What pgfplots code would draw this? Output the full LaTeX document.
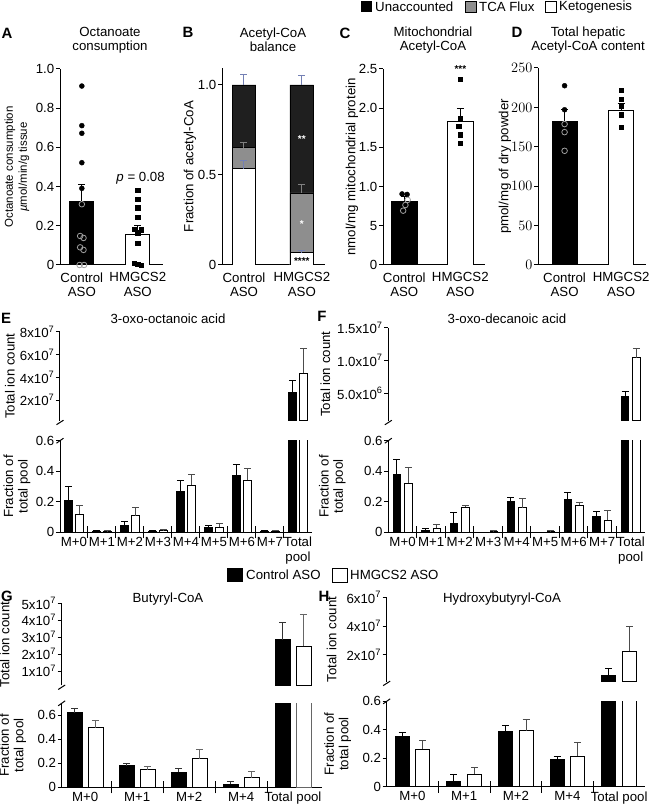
\documentclass[border=0pt]{standalone}
\usepackage{fontspec}
\setmainfont{Liberation Sans}
\usepackage{pgfplots}
\pgfplotsset{compat=1.18}

\definecolor{tca}{HTML}{8E8E8E}
\definecolor{ebblue}{HTML}{7480B4}
\newcommand\fs{\fontsize{13.3}{14.5}\selectfont}
\newcommand\ex[2]{#1x10\textsuperscript{#2}}

\pgfplotsset{
  base/.style={
    scale only axis, anchor=south west,
    axis x line=bottom, axis y line=left,
    axis line style={-, line width=1bp},
    tick style={black, line width=1bp},
    major tick length=4bp, minor tick length=12bp,
    tick align=outside,
    major x tick style={draw=none},
    minor x tick style={yshift=6bp},
    ticklabel style={font=\fs},
    yticklabel style={inner sep=1.5bp},
    xticklabel style={align=center},
    scaled y ticks=false,
    clip mode=individual,
  },
  ylab/.style={every axis y label/.style={at={(rel axis cs:0,0.5)}, xshift=-#1,
    rotate=90, anchor=center, align=center, font=\fs}},
  errb/.style={error bars/.cd, y dir=plus, y explicit,
    error bar style={#1, line width=1bp},
    error mark options={#1, rotate=90, line width=1bp, mark size=3.5bp}},
  cbar/.style={ybar, fill=black, draw=black, line width=0.8bp},
  hbar/.style={ybar, fill=white, draw=black, line width=0.8bp},
  dots/.style={only marks, mark=*, mark size=2.5bp, black},
  rings/.style={only marks, mark=o, mark size=2.8bp, mark options={draw=gray!75, line width=0.8bp}},
  sqs/.style={only marks, mark=square*, mark size=2.2bp, black},
  upper/.style={base, axis x line=none, xtick=\empty},
  lower/.style={base, xticklabel style={yshift=2.5bp}},
}

\begin{document}
\begin{tikzpicture}
\useasboundingbox (0,0) rectangle (650bp,806bp);

% ---- top legend
\fill[black] (361bp,794bp) rectangle (372bp,805bp);
\node[font=\fs, anchor=west, inner sep=0] at (375bp,799bp) {Unaccounted};
\filldraw[fill=tca, draw=black, line width=0.6bp] (465bp,794bp) rectangle (476bp,805bp);
\node[font=\fs, anchor=west, inner sep=0] at (479bp,799bp) {TCA Flux};
\draw[line width=0.6bp] (545bp,794bp) rectangle (556bp,805bp);
\node[font=\fs, anchor=west, inner sep=0] at (559bp,799bp) {Ketogenesis};

% ---- titles and letters
\begin{scope}[every node/.style={font=\fs, align=center}]
\node at (110bp,766bp) {Octanoate\\consumption};
\node at (273bp,766bp) {Acetyl-CoA\\balance};
\node at (433bp,766bp) {Mitochondrial\\Acetyl-CoA};
\node at (588bp,766bp) {Total hepatic\\Acetyl-CoA content};
\node at (168bp,487bp) {3-oxo-octanoic acid};
\node at (507bp,487bp) {3-oxo-decanoic acid};
\node at (168bp,207bp) {Butyryl-CoA};
\node at (502bp,207bp) {Hydroxybutyryl-CoA};
\end{scope}
\begin{scope}[every node/.style={font=\bfseries\fontsize{15}{15}\selectfont}]
\node at (7bp,773bp) {A};
\node at (188bp,774bp) {B};
\node at (345bp,773bp) {C};
\node at (517bp,774bp) {D};
\node at (6bp,488bp) {E};
\node at (322bp,490bp) {F};
\node at (7bp,210bp) {G};
\node at (324bp,210bp) {H};
\end{scope}

% ---- middle legend
\fill[black] (227bp,224bp) rectangle (243bp,238bp);
\node[font=\fs, anchor=west, inner sep=0] at (246bp,231bp) {Control ASO};
\draw[line width=0.6bp] (332bp,224bp) rectangle (347bp,238bp);
\node[font=\fs, anchor=west, inner sep=0] at (350bp,231bp) {HMGCS2 ASO};

% ================= A
\begin{axis}[base, at={(60bp,541bp)}, width=103bp, height=196bp,
  xmin=-0.39, xmax=1.45, ymin=0, ymax=1,
  ytick={0,0.2,0.4,0.6,0.8,1}, yticklabels={0,0.2,0.4,0.6,0.8,1.0},
  xtick={0,1}, xticklabels={Control\\ASO,HMGCS2\\ASO},
  ylab=43bp, ylabel style={font=\fontsize{11.5}{14}\selectfont},
  ylabel={Octanoate consumption\\\textit{µ}mol/min/g tissue}]
\addplot[cbar, bar width=0.43, errb=black] coordinates {(0,0.323) +- (0,0.087)};
\addplot[hbar, bar width=0.43, errb=black] coordinates {(1,0.156) +- (0,0.043)};
\addplot[dots] coordinates {(0,0.913) (0,0.711) (0,0.672) (0,0.522) (0,0.391)};
\addplot[rings] coordinates {(0,0.31) (-0.03,0.148) (0.03,0.138) (-0.03,0.09) (0.03,0.077) (-0.04,0) (0.04,0)};
\addplot[sqs] coordinates {(1,0.383) (1,0.337) (1,0.293) (1,0.245) (0.94,0.182) (1.06,0.18) (1,0.165) (1,0.11) (0.94,0.01) (1,0.005) (1.06,0)};
\node[font=\fs] at (axis cs:1.05,0.445) {\textit{p} = 0.08};
\end{axis}

% ================= B
\begin{axis}[base, at={(222bp,541bp)}, width=103bp, height=197bp,
  xmin=-0.38, xmax=1.40, ymin=0, ymax=1.094,
  ytick={0,0.5,1}, yticklabels={0,0.5,1.0},
  xtick={0,1}, xticklabels={Control\\ASO,HMGCS2\\ASO},
  ylab=32bp, ylabel={Fraction of acetyl-CoA}]
\addplot[cbar, bar width=0.41, fill=black!88, errb=ebblue] coordinates {(0,1) +- (0,0.06) (1,1) +- (0,0.05)};
\addplot[ybar, bar width=0.41, fill=tca, draw=black, line width=0.8bp, errb=gray] coordinates {(0,0.652) +- (0,0.028) (1,0.40) +- (0,0.047)};
\addplot[hbar, bar width=0.41, errb=ebblue] coordinates {(0,0.535) +- (0,0.045) (1,0.069) +- (0,0.009)};
\node[text=white, font=\fontsize{10}{10}\selectfont\bfseries] at (axis cs:1,0.70) {**};
\node[text=white, font=\fontsize{10}{10}\selectfont\bfseries] at (axis cs:1,0.23) {*};
\node[font=\fontsize{10}{10}\selectfont\bfseries] at (axis cs:1,0.022) {****};
\end{axis}

% ================= C
\begin{axis}[base, at={(383bp,541bp)}, width=102bp, height=196bp,
  xmin=-0.38, xmax=1.44, ymin=0, ymax=2.5,
  ytick={0,0.5,1,1.5,2,2.5}, yticklabels={0,5,1.0,1.5,2.0,2.5},
  xtick={0,1}, xticklabels={Control\\ASO,HMGCS2\\ASO},
  ylab=31bp, ylabel={nmol/mg mitochondrial protein}]
\addplot[cbar, bar width=0.45, errb=black] coordinates {(0,0.808) +- (0,0.064)};
\addplot[hbar, bar width=0.45, errb=black] coordinates {(1,1.83) +- (0,0.16)};
\addplot[dots] coordinates {(-0.04,0.906) (0.05,0.90)};
\addplot[rings] coordinates {(0.06,0.83) (0.02,0.765) (-0.02,0.693)};
\addplot[sqs] coordinates {(1,2.37) (1,1.87) (0.97,1.77) (1,1.66) (1,1.55)};
\node[font=\fontsize{10}{10}\selectfont\bfseries] at (axis cs:1,2.5) {***};
\end{axis}

% ================= D
\begin{axis}[base, at={(538bp,541bp)}, width=108bp, height=197bp,
  xmin=-0.47, xmax=1.44, ymin=0, ymax=250,
  ytick={0,50,100,150,200,250},
  xtick={0,1}, xticklabels={Control\\ASO,HMGCS2\\ASO},
  ylab=33bp, ylabel={pmol/mg of dry powder}]
\addplot[cbar, bar width=0.44, errb=black] coordinates {(0,182.2) +- (0,14.8)};
\addplot[hbar, bar width=0.44, errb=black] coordinates {(1,195.8) +- (0,9.7)};
\addplot[dots] coordinates {(0,227.5) (0,197)};
\addplot[rings] coordinates {(0,178.8) (0,168.6) (0,144.9)};
\addplot[sqs] coordinates {(1,221.6) (1,210.6) (1,201.3) (1,190.7) (1,174.6)};
\end{axis}

% ================= E upper
\begin{axis}[upper, at={(60bp,385.3bp)}, width=252bp, height=89bp,
  xmin=-0.5, xmax=8.5, ymin=0.2e7, ymax=8e7,
  ytick={2e7,4e7,6e7,8e7}, yticklabels={\ex{2}{7},\ex{4}{7},\ex{6}{7},\ex{8}{7}},
  ylab=50bp, ylabel={Total ion count}]
\addplot[cbar, bar width=0.3, errb=black] coordinates {(7.8,2.67e7) +- (0,1.07e7)};
\addplot[hbar, bar width=0.3, errb=black!70] coordinates {(8.2,4.37e7) +- (0,2.13e7)};
\draw[line width=1bp] (rel axis cs:0,0) ++(-3.5bp,-4bp) -- ++(7bp,4.5bp);
\end{axis}
% ================= E lower
\begin{axis}[lower, at={(60bp,273.7bp)}, width=252bp, height=91.6bp,
  xmin=-0.5, xmax=8.5, ymin=0, ymax=0.6,
  ytick={0,0.2,0.4,0.6}, yticklabels={0,0.2,0.4,0.6},
  xtick={0,...,8}, xticklabels={M+0,M+1,M+2,M+3,M+4,M+5,M+6,M+7,{Total\\pool}},
  minor xtick={0.5,1.5,...,7.5},
  ylab=43bp, ylabel={Fraction of\\total pool}]
\addplot[cbar, bar width=0.3, errb=black] coordinates {
  (-0.2,0.21) +- (0,0.09) (0.8,0.005) +- (0,0.005) (1.8,0.045) +- (0,0.025) (2.8,0.005) +- (0,0.005)
  (3.8,0.27) +- (0,0.07) (4.8,0.03) +- (0,0.015) (5.8,0.375) +- (0,0.07) (6.8,0.005) +- (0,0.005)};
\addplot[hbar, bar width=0.3, errb=black!70] coordinates {
  (0.2,0.12) +- (0,0.055) (1.2,0.005) +- (0,0.006) (2.2,0.11) +- (0,0.055) (3.2,0.01) +- (0,0.008)
  (4.2,0.31) +- (0,0.07) (5.2,0.035) +- (0,0.02) (6.2,0.34) +- (0,0.08) (7.2,0.008) +- (0,0.005)};
\addplot[cbar, bar width=0.3] coordinates {(7.8,0.7)};
\addplot[hbar, bar width=0.3] coordinates {(8.2,0.7)};
\draw[line width=1bp] (rel axis cs:0,1) ++(-3.5bp,-2.5bp) -- ++(7bp,5bp);
\end{axis}

% ================= F upper
\begin{axis}[upper, at={(388.3bp,385.2bp)}, width=256.7bp, height=93.1bp,
  xmin=-0.5, xmax=8.5, ymin=0.08e7, ymax=1.5e7,
  ytick={5e6,1e7,1.5e7}, yticklabels={\ex{5.0}{6},\ex{1.0}{7},\ex{1.5}{7}},
  ylab=63bp, ylabel={Total ion count}]
\addplot[cbar, bar width=0.27, errb=black] coordinates {(7.8,4.47e6) +- (0,0.87e6)};
\addplot[hbar, bar width=0.27, errb=black!70] coordinates {(8.2,1.04e7) +- (0,0.15e7)};
\draw[line width=1bp] (rel axis cs:0,0) ++(-3.5bp,-4bp) -- ++(7bp,4.5bp);
\end{axis}
% ================= F lower
\begin{axis}[lower, at={(388.3bp,273.7bp)}, width=256.7bp, height=91.6bp,
  xmin=-0.5, xmax=8.5, ymin=0, ymax=0.6,
  ytick={0,0.2,0.4,0.6}, yticklabels={0,0.2,0.4,0.6},
  xtick={0,...,8}, xticklabels={M+0,M+1,M+2,M+3,M+4,M+5,M+6,M+7,{Total\\pool}},
  minor xtick={0.5,1.5,...,7.5},
  ylab=56bp, ylabel={Fraction of\\total pool}]
\addplot[cbar, bar width=0.27, errb=black] coordinates {
  (-0.2,0.376) +- (0,0.098) (0.8,0.011) +- (0,0.015) (1.8,0.057) +- (0,0.071)
  (3.8,0.20) +- (0,0.03) (5.8,0.213) +- (0,0.047) (6.8,0.102) +- (0,0.035)};
\addplot[hbar, bar width=0.27, errb=black!70] coordinates {
  (0.2,0.322) +- (0,0.102) (1.2,0.028) +- (0,0.02) (2.2,0.165) +- (0,0.013) (3.2,0.004) +- (0,0.007)
  (4.2,0.161) +- (0,0.063) (5.2,0.004) +- (0,0.006) (6.2,0.178) +- (0,0.018) (7.2,0.08) +- (0,0.061)};
\addplot[cbar, bar width=0.27] coordinates {(7.8,0.7)};
\addplot[hbar, bar width=0.27] coordinates {(8.2,0.7)};
\draw[line width=1bp] (rel axis cs:0,1) ++(-3.5bp,-2.5bp) -- ++(7bp,5bp);
\end{axis}

% ================= G upper
\begin{axis}[upper, at={(61.7bp,120.5bp)}, width=260bp, height=82.2bp,
  xmin=-0.45, xmax=4.55, ymin=0.15e7, ymax=5e7,
  ytick={1e7,2e7,3e7,4e7,5e7}, yticklabels={\ex{1}{7},\ex{2}{7},\ex{3}{7},\ex{4}{7},\ex{5}{7}},
  ylab=57bp, ylabel={Total ion count}]
\addplot[cbar, bar width=0.29, errb=black!80] coordinates {(3.8,2.86e7) +- (0,1.02e7)};
\addplot[hbar, bar width=0.29, errb=black!60] coordinates {(4.2,2.47e7) +- (0,1.88e7)};
\draw[line width=1bp] (rel axis cs:0,0) ++(-3.5bp,-4bp) -- ++(7bp,4.5bp);
\end{axis}
% ================= G lower
\begin{axis}[lower, at={(61.7bp,18.7bp)}, width=260bp, height=84bp,
  xmin=-0.45, xmax=4.55, ymin=0, ymax=0.7,
  ytick={0,0.2,0.4,0.6}, yticklabels={0,0.2,0.4,0.6},
  xtick={0,...,4}, xticklabels={M+0,M+1,M+2,M+4,Total pool},
  minor xtick={0.5,1.5,...,3.5},
  ylab=49bp, ylabel={Fraction of\\total pool}]
\addplot[cbar, bar width=0.29, errb=black!80] coordinates {
  (-0.2,0.622) +- (0,0.034) (0.8,0.18) +- (0,0.02) (1.8,0.124) +- (0,0.03) (2.8,0.025) +- (0,0.022)};
\addplot[hbar, bar width=0.29, errb=black!60] coordinates {
  (0.2,0.495) +- (0,0.063) (1.2,0.146) +- (0,0.025) (2.2,0.237) +- (0,0.078) (3.2,0.08) +- (0,0.053)};
\addplot[cbar, bar width=0.29] coordinates {(3.8,0.8)};
\addplot[hbar, bar width=0.29, draw=black!60] coordinates {(4.2,0.8)};
\draw[line width=1bp] (rel axis cs:0,1) ++(-3.5bp,-2.5bp) -- ++(7bp,5bp);
\end{axis}

% ================= H upper
\begin{axis}[upper, at={(386.7bp,124.4bp)}, width=258.3bp, height=84.3bp,
  xmin=-0.5, xmax=4.5, ymin=0.15e7, ymax=6e7,
  ytick={2e7,4e7,6e7}, yticklabels={\ex{2}{7},\ex{4}{7},\ex{6}{7}},
  ylab=55bp, ylabel={Total ion count}]
\addplot[cbar, bar width=0.27, errb=black] coordinates {(3.8,0.61e7) +- (0,0.47e7)};
\addplot[hbar, bar width=0.27, errb=black!70] coordinates {(4.2,2.28e7) +- (0,1.72e7)};
\draw[line width=1bp] (rel axis cs:0,0) ++(-3.5bp,-4bp) -- ++(7bp,4.5bp);
\end{axis}
% ================= H lower
\begin{axis}[lower, at={(386.7bp,19.3bp)}, width=258.3bp, height=85.4bp,
  xmin=-0.5, xmax=4.5, ymin=0, ymax=0.6,
  ytick={0,0.2,0.4,0.6}, yticklabels={0,0.2,0.4,0.6},
  xtick={0,...,4}, xticklabels={M+0,M+1,M+2,M+4,Total pool},
  minor xtick={0.5,1.5,...,3.5},
  ylab=49bp, ylabel={Fraction of\\total pool}]
\addplot[cbar, bar width=0.27, errb=black] coordinates {
  (-0.2,0.351) +- (0,0.031) (0.8,0.04) +- (0,0.049) (1.8,0.391) +- (0,0.038) (2.8,0.19) +- (0,0.021)};
\addplot[hbar, bar width=0.27, errb=black!70] coordinates {
  (0.2,0.265) +- (0,0.058) (1.2,0.089) +- (0,0.045) (2.2,0.394) +- (0,0.075) (3.2,0.216) +- (0,0.093)};
\addplot[cbar, bar width=0.27] coordinates {(3.8,0.7)};
\addplot[hbar, bar width=0.27] coordinates {(4.2,0.7)};
\draw[line width=1bp] (rel axis cs:0,1) ++(-3.5bp,-2.5bp) -- ++(7bp,5bp);
\end{axis}
\end{tikzpicture}
\end{document}
